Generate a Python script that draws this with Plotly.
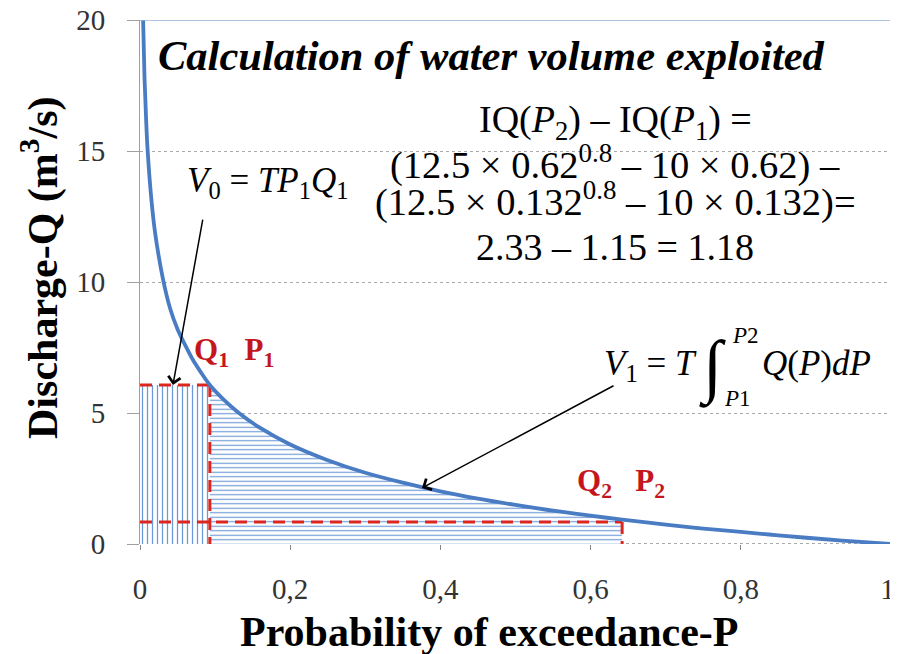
import plotly.graph_objects as go

# Flow duration curve
P = [0.004, 0.006, 0.008, 0.01, 0.015, 0.02, 0.03, 0.04, 0.05, 0.06, 0.07, 0.08, 0.093,
     0.11, 0.13, 0.16, 0.2, 0.25, 0.3, 0.35, 0.4, 0.45, 0.5, 0.55, 0.6, 0.642,
     0.7, 0.75, 0.8, 0.85, 0.9, 0.95, 1.0]
Q = [20.2, 17.8, 16.3, 15.1, 13.2, 11.9, 10.2, 9.0, 8.2, 7.6, 7.05, 6.6, 6.07,
     5.55, 5.04, 4.43, 3.80, 3.20, 2.72, 2.34, 2.01, 1.73, 1.49, 1.27, 1.08, 0.93,
     0.74, 0.59, 0.46, 0.33, 0.21, 0.10, 0.0]

P1, Q1 = 0.093, 6.07
P2, Q2 = 0.642, 0.84

x_tickvals = [0, 0.2, 0.4, 0.6, 0.8, 1.0]
x_ticktext = ["0", "0,2", "0,4", "0,6", "0,8", "1\u00a0"]
y_tickvals = [0, 5, 10, 15, 20]

CURVE = "#4a7cc4"
HATCH = "#6a98d8"
RED = "#de2620"
DARKRED = "#c4161c"
SERIF = "Liberation Serif"

fig = go.Figure()

# vertical hatching: V0 = T P1 Q1
fig.add_trace(go.Scatter(
    x=[0, P1], y=[Q1, Q1], fill="tozeroy", mode="none", showlegend=False,
    fillpattern=dict(shape="|", fgcolor=HATCH, bgcolor="white", size=5,
                     solidity=0.25, fillmode="replace")))

# horizontal hatching: integral between P1 and P2
segP = [p for p in P if P1 <= p <= P2]
segQ = [q for p, q in zip(P, Q) if P1 <= p <= P2]
fig.add_trace(go.Scatter(
    x=segP, y=segQ, fill="tozeroy", mode="none", showlegend=False,
    line_shape="spline",
    fillpattern=dict(shape="-", fgcolor=HATCH, bgcolor="white", size=4.5,
                     solidity=0.25, fillmode="replace")))

# red dashed guide lines
fig.add_trace(go.Scatter(
    x=[0, P1, None, P1, P1, None, 0, P2, None, P2, P2],
    y=[Q1, Q1, None, Q1, 0, None, Q2, Q2, None, Q2, 0],
    mode="lines", showlegend=False, connectgaps=False,
    line=dict(color=RED, width=3, dash="12px,7px")))

# curve
fig.add_trace(go.Scatter(
    x=P, y=Q, mode="lines", showlegend=False, line_shape="spline",
    line=dict(color=CURVE, width=3.8)))

ann = []
def txt(x, y, text, size, color="black", xanchor="center", yanchor="middle",
        xref="x", yref="y", textangle=0):
    ann.append(dict(x=x, y=y, xref=xref, yref=yref, text=text, showarrow=False,
                    font=dict(family=SERIF, size=size, color=color),
                    xanchor=xanchor, yanchor=yanchor, textangle=textangle))

txt(0.4687, 18.66, "<b><i>Calculation of water volume exploited</i></b>", 42.5)
txt(0.6325, 16.1, "IQ(<i>P</i><sub>2</sub>) – IQ(<i>P</i><sub>1</sub>) =", 38)
txt(0.6325, 14.58, "(12.5 × 0.62<sup>0.8</sup> – 10 × 0.62) –", 38.5)
txt(0.6325, 13.13, "(12.5 × 0.132<sup>0.8</sup> – 10 × 0.132)=", 38.5)
txt(0.6325, 11.34, "2.33 – 1.15 = 1.18", 38)
txt(0.170, 13.78, "<i>V</i><sub>0</sub> = <i>TP</i><sub>1</sub><i>Q</i><sub>1</sub>", 35)
txt(0.125, 7.33, "<b>Q<sub>1</sub>  P<sub>1</sub></b>", 31, DARKRED)
txt(0.640, 2.33, "<b>Q<sub>2</sub>   P<sub>2</sub></b>", 31, DARKRED)
txt(0.615, 6.83, "<i>V</i><sub>1</sub> = <i>T</i>", 35, xanchor="left")
txt(0.762, 6.75, "∫", 70)
txt(0.806, 7.95, "<i>P</i>2", 23)
txt(0.795, 5.55, "<i>P</i>1", 23)
txt(0.826, 6.9, "<i>Q</i>(<i>P</i>)<i>dP</i>", 35, xanchor="left")

# axis titles
txt(0.465, -0.168, "<b>Probability of exceedance-P</b>", 42,
    xref="paper", yref="paper")
txt(-0.133, 0.527, "<b>Discharge-Q (m<sup>3</sup>/s)</b>", 42, xref="paper", yref="paper",
    textangle=-90)

# arrows
for (tx, ty, hx, hy) in [(0.0839, 12.44, 0.0439, 6.07), (0.6325, 6.07, 0.3755, 2.14)]:
    ann.append(dict(x=hx, y=hy, ax=tx, ay=ty, xref="x", yref="y", axref="x", ayref="y",
                    text="", showarrow=True, arrowhead=4, arrowsize=1.6,
                    arrowwidth=1.5, arrowcolor="black"))

shapes = [
    dict(type="line", xref="x", yref="y", x0=0, x1=1, y0=20, y1=20,
         line=dict(color="#95b3d7", width=1.5)),
    dict(type="line", xref="x", yref="y", x0=1, x1=1, y0=0, y1=20,
         line=dict(color="#95b3d7", width=1.5)),
    dict(type="line", xref="x", yref="y", x0=0, x1=1, y0=0, y1=0,
         line=dict(color="#555555", width=1, dash="dot"), layer="below"),
]

# page body has an 8px margin, so the plot area is offset to compensate
fig.update_layout(
    width=898, height=654,
    margin=dict(l=132, r=15, t=12, b=118),
    plot_bgcolor="white", paper_bgcolor="white",
    annotations=ann, shapes=shapes,
    font=dict(family=SERIF, color="#222222"),
    xaxis=dict(range=[0, 1], tickvals=x_tickvals, ticktext=x_ticktext,
               automargin=False, ticklabeloverflow="allow",
               showgrid=False, zeroline=False, showline=False,
               ticks="outside", ticklen=5, tickcolor="#888888",
               tickfont=dict(family=SERIF, size=29, color="#333333"),
               ticklabelstandoff=14),
    yaxis=dict(range=[0, 20], tickvals=y_tickvals, automargin=False,
               ticklabeloverflow="allow",
               showgrid=True, gridcolor="#aaaaaa", griddash="dot", gridwidth=1,
               zeroline=False, showline=True, linecolor="#a0a0a0", linewidth=1,
               ticks="outside", ticklen=12, tickcolor="#a0a0a0",
               tickfont=dict(family=SERIF, size=29, color="#333333"),
               ticklabelstandoff=16),
)

fig.write_html("out.html")
